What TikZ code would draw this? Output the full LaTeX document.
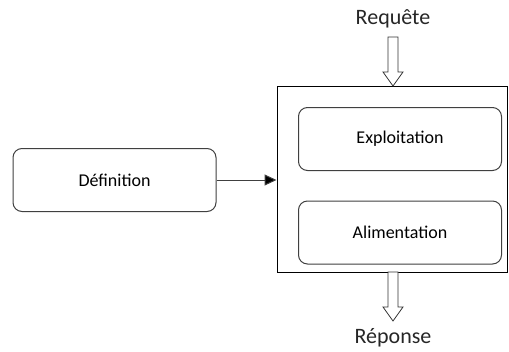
\documentclass[tikz,border=0pt]{standalone}
\usepackage{fontspec}
\setmainfont{Carlito}
\usetikzlibrary{arrows.meta}
\begin{document}
\begin{tikzpicture}[x=1pt,y=-1pt,
  rbox/.style={draw=black!75, line width=1pt, rounded corners=9pt, fill=white,
    minimum width=203pt, minimum height=63pt, inner sep=0pt, font=\fontsize{18}{20}\selectfont},
  frame/.style={draw=black, line width=1pt},
  biglabel/.style={font=\fontsize{22}{24}\selectfont, text=black!85, inner sep=0pt},
  hollow/.style={draw=black!80, line width=0.8pt, fill=white}
]
\useasboundingbox (0,0) rectangle (509,351);

% outer system box
\node[frame, minimum width=230pt, minimum height=186pt, inner sep=0pt] (sys) at (392,179) {};

% inner boxes
\node[rbox] (def) at (114.5,180) {Définition};
\node[rbox] (exp) at (400,139) {Exploitation};
\node[rbox] (ali) at (400,232.5) {Alimentation};

% labels
\node[biglabel] (req) at (393,19) {Requête};
\node[biglabel] (rep) at (393,338) {Réponse};

% hollow arrows in and out
\draw[hollow] (388,37) -- (398,37) -- (398,72) -- (403,72) -- (393,86) -- (383,72) -- (388,72) -- cycle;
\draw[hollow] (388,272) -- (398,272) -- (398,307) -- (403,307) -- (393,321) -- (383,307) -- (388,307) -- cycle;

% definition feeds the system
\draw[line width=1pt, draw=black!75, -{Triangle[length=12pt,width=11pt,fill=black]}] (def.east) -- (def.east -| sys.west);
\end{tikzpicture}
\end{document}
